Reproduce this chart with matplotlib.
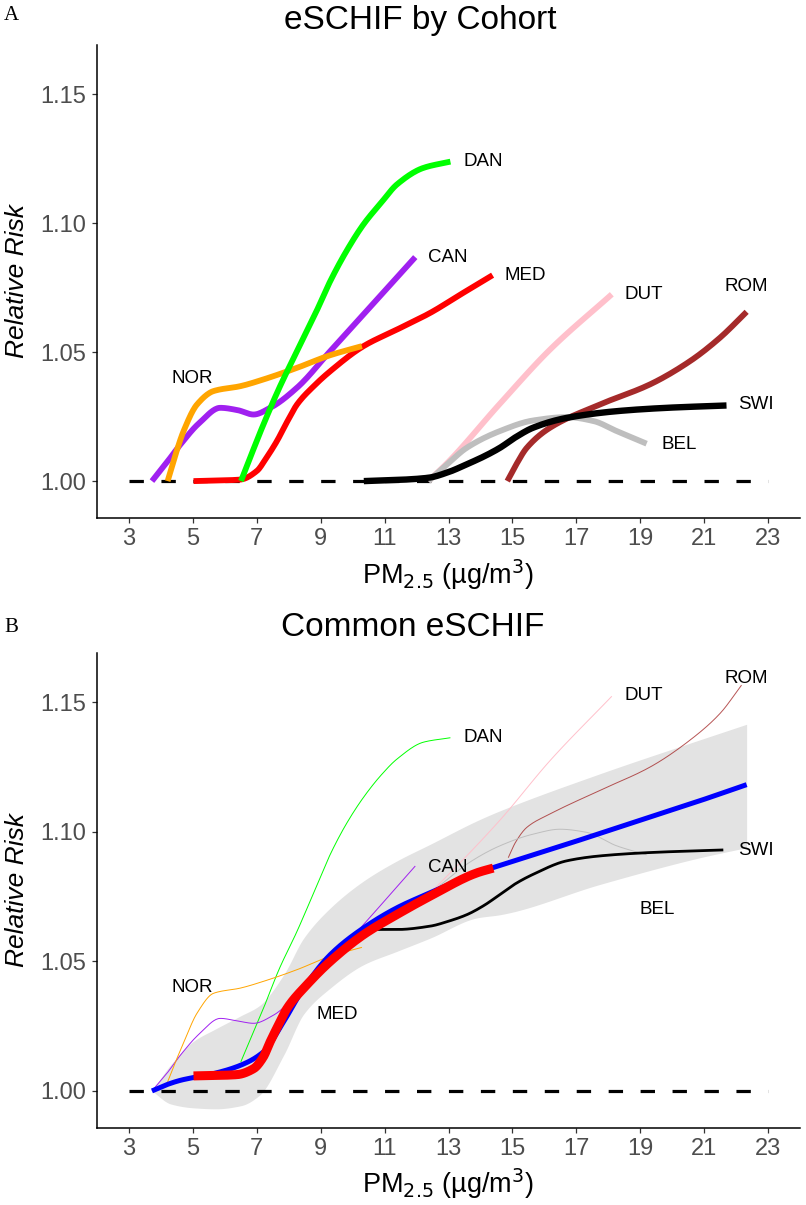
import matplotlib
matplotlib.use("Agg")
import matplotlib.pyplot as plt
import numpy as np

plt.rcParams['font.family'] = ['Liberation Sans', 'DejaVu Sans']

# ---------------- Panel A data (eSCHIF by cohort) ----------------
can_a_x = [3.72, 4.2, 4.61, 5.2, 5.86, 6.4, 6.9, 7.42, 8.26, 9.3, 10.34, 11.96]
can_a_y = [1.000, 1.0075, 1.0142, 1.0225, 1.0284, 1.0275, 1.0258, 1.0284, 1.0362, 1.0504, 1.0646, 1.0868]

nor_a_x = [4.21, 4.45, 4.71, 5.13, 5.65, 6.49, 7.21, 8.26, 9.3, 10.29]
nor_a_y = [1.000, 1.010, 1.0194, 1.0297, 1.0349, 1.0368, 1.0394, 1.0439, 1.0488, 1.0523]

dan_a_x = [6.505, 7.21, 7.7, 8.26, 8.8, 9.3, 9.8, 10.34, 10.9, 11.39, 12.22, 13.06]
dan_a_y = [1.000, 1.022, 1.036, 1.0504, 1.064, 1.0775, 1.089, 1.0995, 1.108, 1.115, 1.1214, 1.1238]

med_a_x = [5.02, 6.0, 6.49, 7.0, 7.3, 7.63, 7.95, 8.26, 8.8, 9.3, 10.34, 11.4, 12.43, 13.4, 14.38]
med_a_y = [1.000, 1.0003, 1.0006, 1.0039, 1.009, 1.0155, 1.023, 1.0297, 1.037, 1.0426, 1.0523, 1.0588, 1.0652, 1.0725, 1.0798]

dut_a_x = [12.37, 13.0, 14.61, 16.18, 18.11]
dut_a_y = [1.000, 1.0075, 1.030, 1.051, 1.0724]

rom_a_x = [14.84, 15.1, 15.45, 16.18, 17.74, 19.31, 20.56, 21.5, 22.33]
rom_a_y = [1.000, 1.006, 1.0129, 1.0207, 1.0297, 1.0375, 1.0465, 1.0556, 1.0656]

swi_a_x = [10.35, 11.5, 12.37, 13.0, 13.57, 14.1, 14.61, 15.1, 15.65, 16.7, 18.26, 19.83, 21.7]
swi_a_y = [1.000, 1.0005, 1.0013, 1.0035, 1.0065, 1.0095, 1.0129, 1.017, 1.0207, 1.0245, 1.0271, 1.0284, 1.0293]

bel_a_x = [12.37, 13.0, 13.57, 14.61, 15.65, 16.7, 17.53, 18.26, 19.2]
bel_a_y = [1.000, 1.007, 1.0129, 1.0194, 1.0235, 1.0248, 1.0233, 1.0194, 1.0145]

# ---------------- Panel B data (common eSCHIF) ----------------
common_x = [3.72, 4.2, 4.61, 5.65, 6.49, 7.21, 7.84, 8.47, 9.3, 10.34, 11.39, 12.43,
            13.9, 14.4, 16.7, 18.78, 20.87, 22.33]
common_y = [1.000, 1.0025, 1.0041, 1.0067, 1.0099, 1.0151, 1.0267, 1.0397, 1.0526, 1.0629,
            1.0707, 1.0765, 1.0842, 1.0862, 1.0952, 1.1036, 1.112, 1.1182]

band_x = [3.72, 4.3, 5.0, 5.72, 6.5, 7.08, 7.84, 8.47, 9.3, 10.34, 11.39, 12.43, 13.9,
          14.61, 17.74, 20.87, 22.33]
band_lo = [1.000, 0.9950, 0.9935, 0.9931, 0.9943, 0.9983, 1.0138, 1.0297, 1.0397, 1.0487,
           1.0539, 1.059, 1.0668, 1.068, 1.0797, 1.090, 1.0939]
band_hi = [1.000, 1.010, 1.019, 1.024, 1.029, 1.0329, 1.0448, 1.059, 1.0706, 1.081,
           1.0888, 1.0952, 1.1043, 1.1081, 1.1224, 1.1355, 1.1415]

medb_x = [5.02, 5.8, 6.38, 6.9, 7.2, 7.42, 7.7, 7.95, 8.57, 9.3, 10.34, 11.39, 12.43, 13.9, 14.4]
medb_y = [1.0058, 1.006, 1.0063, 1.0086, 1.013, 1.019, 1.026, 1.0319, 1.041, 1.050, 1.0603,
          1.0681, 1.0752, 1.0842, 1.086]

dan_b_x = [6.5, 7.21, 7.7, 8.26, 8.8, 9.3, 9.8, 10.34, 10.9, 11.39, 12.22, 13.06]
dan_b_y = [1.0112, 1.0319, 1.047, 1.0616, 1.077, 1.0913, 1.103, 1.1133, 1.122, 1.1281, 1.1346, 1.1363]

can_b_x = [3.72, 4.2, 4.61, 5.2, 5.86, 6.4, 6.9, 7.53, 8.05, 9.3, 10.34, 11.96]
can_b_y = [1.000, 1.007, 1.0138, 1.022, 1.028, 1.027, 1.0261, 1.0293, 1.0345, 1.050, 1.0642, 1.0868]

nor_b_x = [4.21, 4.45, 4.71, 5.13, 5.65, 6.49, 7.21, 8.26, 9.3, 10.29]
nor_b_y = [1.0035, 1.011, 1.0186, 1.030, 1.0377, 1.0397, 1.0423, 1.0468, 1.052, 1.0554]

swi_b_x = [10.34, 11.39, 12.43, 13.0, 13.57, 14.1, 14.61, 15.1, 15.65, 16.7, 17.74, 19.31, 21.6]
swi_b_y = [1.0623, 1.0623, 1.0636, 1.0655, 1.068, 1.0715, 1.0758, 1.080, 1.0836, 1.0888,
           1.0907, 1.092, 1.093]

bel_b_x = [12.32, 13.0, 13.57, 14.61, 15.65, 16.49, 17.32, 18.26, 19.2]
bel_b_y = [1.0752, 1.082, 1.0875, 1.0946, 1.0991, 1.101, 1.0998, 1.0946, 1.0911]

dut_b_x = [12.32, 13.0, 14.61, 16.18, 18.11]
dut_b_y = [1.0752, 1.0835, 1.1045, 1.1275, 1.1523]

rom_b_x = [14.87, 15.1, 15.45, 16.18, 17.74, 19.31, 20.56, 21.5, 22.17]
rom_b_y = [1.090, 1.096, 1.1017, 1.1069, 1.116, 1.125, 1.1354, 1.1457, 1.1566]

x_ticks = [3, 5, 7, 9, 11, 13, 15, 17, 19, 21, 23]
y_ticks = [1.00, 1.05, 1.10, 1.15]
y_tick_labels = ["1.00", "1.05", "1.10", "1.15"]

labels_a = {"DAN": (13.27, 1.124, 'left'), "CAN": (12.17, 1.0868, 'left'),
            "MED": (14.55, 1.0795, 'left'), "DUT": (18.3, 1.0725, 'left'),
            "ROM": (22.33, 1.0756, 'center'), "SWI": (21.86, 1.0295, 'left'),
            "BEL": (19.46, 1.0143, 'left'), "NOR": (4.97, 1.0399, 'center')}
labels_b = {"DAN": (13.27, 1.1364, 'left'), "CAN": (12.17, 1.0864, 'left'),
            "MED": (9.51, 1.0295, 'center'), "DUT": (18.3, 1.1527, 'left'),
            "ROM": (22.33, 1.1593, 'center'), "SWI": (21.86, 1.0926, 'left'),
            "BEL": (19.53, 1.0702, 'center'), "NOR": (4.97, 1.0399, 'center')}


def smooth(xs, ys, n=20):
    """Draw-time smoothing: monotone cubic Hermite through the read points."""
    x = np.asarray(xs, float)
    y = np.asarray(ys, float)
    h = np.diff(x)
    d = np.diff(y) / h
    m = np.zeros_like(y)
    m[0], m[-1] = d[0], d[-1]
    for k in range(1, len(x) - 1):
        if d[k - 1] * d[k] <= 0:
            m[k] = 0.0
        else:
            w1 = 2 * h[k] + h[k - 1]
            w2 = h[k] + 2 * h[k - 1]
            m[k] = (w1 + w2) / (w1 / d[k - 1] + w2 / d[k])
    ox, oy = [x[0]], [y[0]]
    for k in range(len(x) - 1):
        t = np.linspace(0, 1, n + 1)[1:]
        h00 = 2 * t**3 - 3 * t**2 + 1
        h10 = t**3 - 2 * t**2 + t
        h01 = -2 * t**3 + 3 * t**2
        h11 = t**3 - t**2
        ox.extend(x[k] + t * h[k])
        oy.extend(h00 * y[k] + h10 * h[k] * m[k] + h01 * y[k + 1] + h11 * h[k] * m[k + 1])
    return np.array(ox), np.array(oy)


# ---------------- Figure ----------------
W, H = 806, 1205
fig = plt.figure(figsize=(W / 100, H / 100), dpi=100)
axA = fig.add_axes([97 / W, 1 - 518 / H, 703 / W, 473 / H])
axB = fig.add_axes([97 / W, 1 - 1128 / H, 703 / W, 475 / H])


def style(ax):
    ax.set_xlim(2.0, 24.0)
    ax.set_ylim(0.9857, 1.169)
    for s in ['top', 'right']:
        ax.spines[s].set_visible(False)
    for s in ['left', 'bottom']:
        ax.spines[s].set_linewidth(1.1)
        ax.spines[s].set_color('black')
    ax.set_xticks(x_ticks)
    ax.set_xticklabels([str(t) for t in x_ticks])
    ax.set_yticks(y_ticks)
    ax.set_yticklabels(y_tick_labels)
    ax.tick_params(axis='both', labelsize=17, colors='#333333', labelcolor='#4D4D4D',
                   length=3.5, width=0.9, pad=4)
    ax.hlines(1.0, 3, 23, colors='black', linestyles=(0, (4.5, 5.5)), linewidth=2.3, zorder=1)


def lab(ax, d):
    for k, (x, y, ha) in d.items():
        ax.text(x + (0.2 if ha == 'left' else 0), y, k, ha=ha, va='center', fontsize=13.5,
                color='black', zorder=10)


def line(ax, xs, ys, **kw):
    sx, sy = smooth(xs, ys)
    ax.plot(sx, sy, solid_capstyle='butt', solid_joinstyle='round', **kw)


style(axA)
lw = 4.2
line(axA, med_a_x, med_a_y, color='#FF0000', lw=lw, zorder=3)
line(axA, can_a_x, can_a_y, color='#A020F0', lw=lw, zorder=4)
line(axA, nor_a_x, nor_a_y, color='#FFA500', lw=lw, zorder=5)
line(axA, dan_a_x, dan_a_y, color='#00FF00', lw=lw, zorder=6)
line(axA, dut_a_x, dut_a_y, color='#FFC0CB', lw=lw, zorder=3)
line(axA, rom_a_x, rom_a_y, color='#A52A2A', lw=lw, zorder=4)
line(axA, bel_a_x, bel_a_y, color='#BEBEBE', lw=lw, zorder=5)
line(axA, swi_a_x, swi_a_y, color='black', lw=4.6, zorder=6)
lab(axA, labels_a)

style(axB)
bx, blo = smooth(band_x, band_lo)
_, bhi = smooth(band_x, band_hi)
axB.fill_between(bx, blo, bhi, color='#E3E3E3', lw=0, zorder=0.5)
thin = 0.7
line(axB, dan_b_x, dan_b_y, color='#00FF00', lw=thin, zorder=3)
line(axB, can_b_x, can_b_y, color='#A020F0', lw=thin, zorder=3)
line(axB, nor_b_x, nor_b_y, color='#FFA500', lw=thin, zorder=3)
line(axB, dut_b_x, dut_b_y, color='#FFC0CB', lw=thin, zorder=3)
line(axB, rom_b_x, rom_b_y, color='#A52A2A', lw=thin, zorder=3, alpha=0.8)
line(axB, bel_b_x, bel_b_y, color='#BEBEBE', lw=thin, zorder=3)
line(axB, swi_b_x, swi_b_y, color='black', lw=2.0, zorder=4)
line(axB, common_x, common_y, color='#0000FF', lw=3.6, zorder=5)
line(axB, medb_x, medb_y, color='#FF0000', lw=6.5, zorder=6)
lab(axB, labels_b)

# titles, axis titles, panel letters
fig.text(420 / W, 1 - 20 / H, 'eSCHIF by Cohort', ha='center', va='center', fontsize=24)
fig.text(413 / W, 1 - 628 / H, 'Common eSCHIF', ha='center', va='center', fontsize=24)
for yc in (575, 1184):
    fig.text(448 / W, 1 - yc / H, 'PM$_{2.5}$ (µg/m$^{3}$)', ha='center', va='center',
             fontsize=19.5)
for yc in (281, 890):
    fig.text(17 / W, 1 - yc / H, 'Relative Risk', ha='center', va='center', rotation=90,
             fontsize=19, style='italic')
fig.text(4 / W, 1 - 15 / H, 'A', ha='left', va='center', fontsize=15,
         family=['Liberation Serif', 'DejaVu Serif'])
fig.text(4 / W, 1 - 628 / H, 'B', ha='left', va='center', fontsize=15,
         family=['Liberation Serif', 'DejaVu Serif'])

fig.savefig('out.png', dpi=100)
